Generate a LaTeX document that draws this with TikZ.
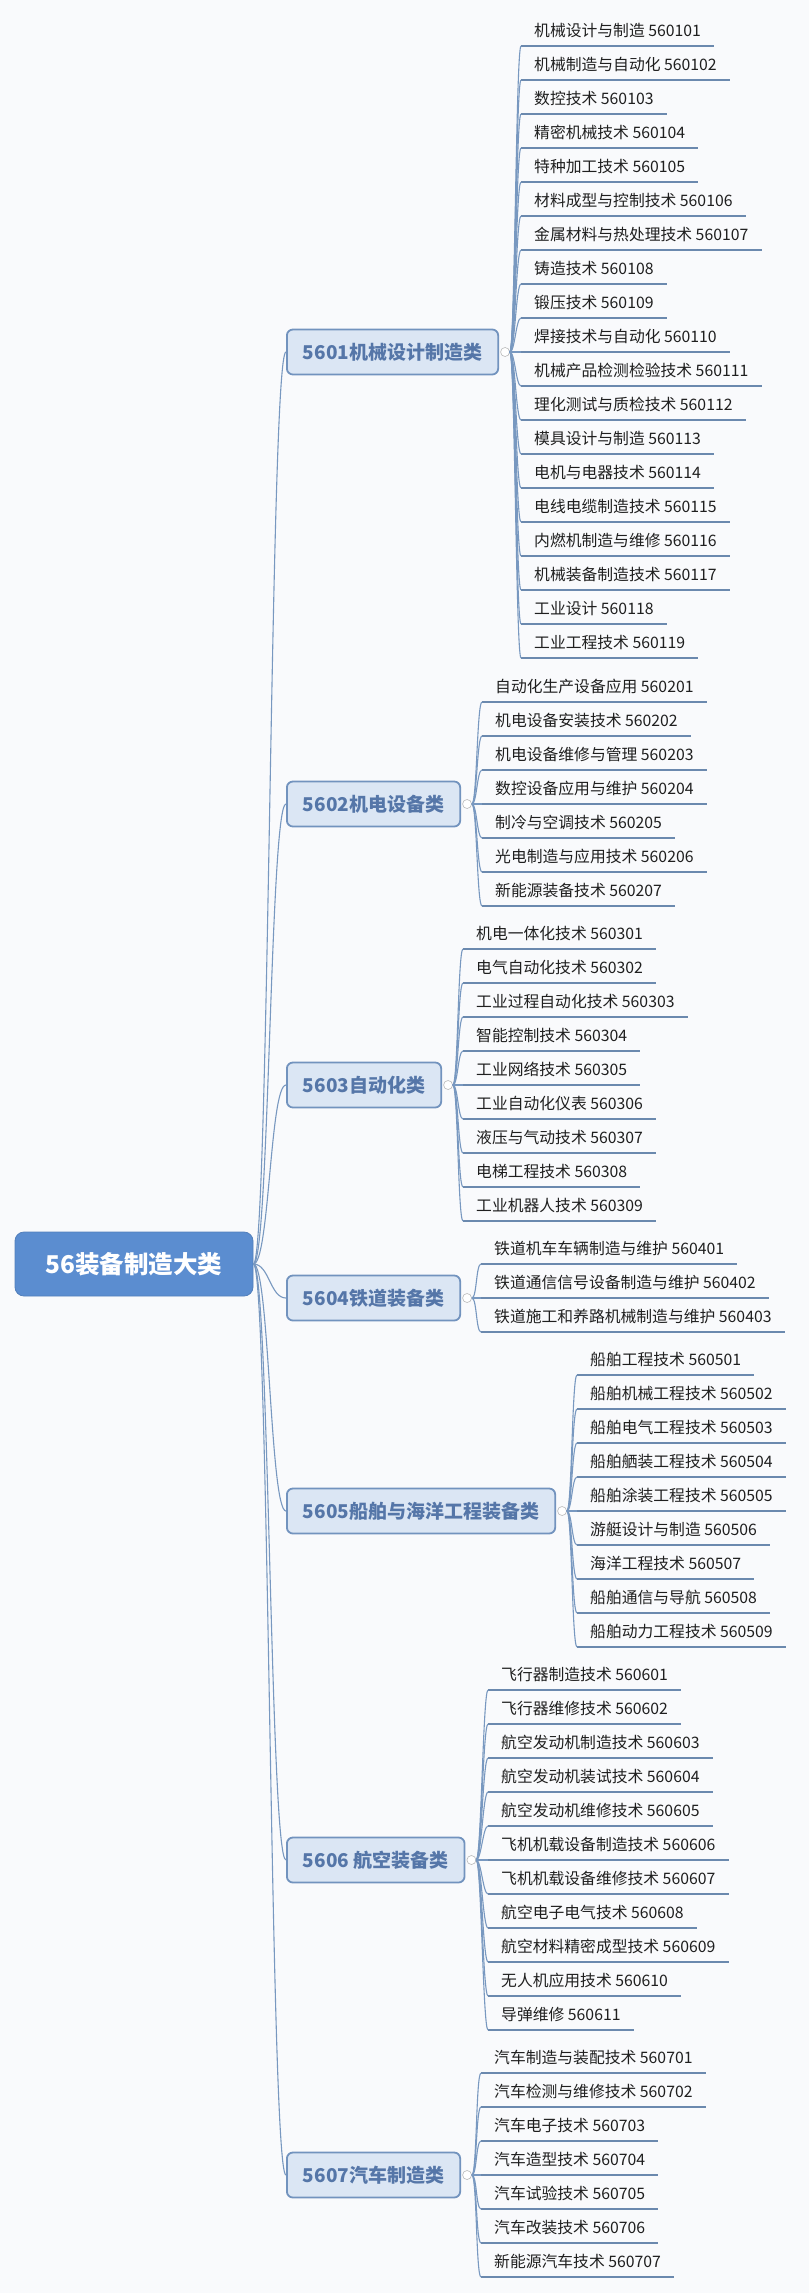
\documentclass[tikz,border=0pt]{standalone}
\usepackage{fontspec}
\setmainfont{Noto Sans CJK SC}
\definecolor{bgc}{HTML}{F9FAFC}
\definecolor{rootfill}{HTML}{5B8DD0}
\definecolor{catfill}{HTML}{DBE6F4}
\definecolor{catdraw}{HTML}{7293BE}
\definecolor{cattext}{HTML}{5576A8}
\definecolor{connc}{HTML}{7898C0}
\definecolor{ulinec}{HTML}{6B89AE}
\tikzset{
  rootbox/.style={fill=rootfill, draw=rootfill!90!black, line width=0.8pt, rounded corners=9pt,
    text=white, font=\fontsize{24.5}{28}\selectfont\bfseries, minimum width=238pt, minimum height=64pt},
  catbox/.style={fill=catfill, draw=catdraw, line width=1.8pt, rounded corners=6pt,
    text=cattext, font=\fontsize{19}{22}\selectfont\bfseries, minimum height=45pt, inner xsep=16pt, anchor=west},
  foldmark/.style={circle, draw=gray!55, fill=white, line width=0.6pt, minimum size=9pt, inner sep=0pt},
  leaf/.style={font=\fontsize{15.8}{18}\selectfont, text=black!88, inner xsep=13pt, inner ysep=5pt,
    text depth=4pt, anchor=south west},
  uline/.style={draw=ulinec, line width=2pt},
  conn/.style={draw=connc, line width=1.1pt}
}
\newcommand\mmgroup[5]{%
  \foreach \i/\t in {#5} {
    \node[leaf] (#1-\i) at (#3, {#2+34*(\i-#4)}) {\t};
    \draw[uline] (#1-\i.south west) -- (#1-\i.south east);
    \draw[conn] (#1-o.east) .. controls +(5,0) and +(-5,0) .. (#1-\i.south west);
  }}
\begin{document}
\begin{tikzpicture}[x=1pt, y=-1pt]
\fill[bgc] (0,0) rectangle (809,2293);
\useasboundingbox (0,0) rectangle (809,2293);

\node[rootbox] (root) at (134,1264) {56装备制造大类};

\node[catbox] (c1) at (286,352) {5601机械设计制造类};
\node[catbox] (c2) at (286,804) {5602机电设备类};
\node[catbox] (c3) at (286,1085) {5603自动化类};
\node[catbox] (c4) at (286,1298) {5604铁道装备类};
\node[catbox] (c5) at (286,1511) {5605船舶与海洋工程装备类};
\node[catbox] (c6) at (286,1860) {5606 航空装备类};
\node[catbox] (c7) at (286,2175) {5607汽车制造类};

\foreach \c in {c1,c2,c3,c4,c5,c6,c7} {
  \draw[conn] (root.east) .. controls +(16,0) and +(-16,0) .. (\c.west);
  \node[foldmark] (\c-o) at ([xshift=6pt]\c.east) {};
}

\mmgroup{c1}{352}{521}{10}{1/机械设计与制造 560101, 2/机械制造与自动化 560102, 3/数控技术 560103,
  4/精密机械技术 560104, 5/特种加工技术 560105, 6/材料成型与控制技术 560106,
  7/金属材料与热处理技术 560107, 8/铸造技术 560108, 9/锻压技术 560109,
  10/焊接技术与自动化 560110, 11/机械产品检测检验技术 560111, 12/理化测试与质检技术 560112,
  13/模具设计与制造 560113, 14/电机与电器技术 560114, 15/电线电缆制造技术 560115,
  16/内燃机制造与维修 560116, 17/机械装备制造技术 560117, 18/工业设计 560118,
  19/工业工程技术 560119}

\mmgroup{c2}{804}{482}{4}{1/自动化生产设备应用 560201, 2/机电设备安装技术 560202,
  3/机电设备维修与管理 560203, 4/数控设备应用与维护 560204, 5/制冷与空调技术 560205,
  6/光电制造与应用技术 560206, 7/新能源装备技术 560207}

\mmgroup{c3}{1085}{463}{5}{1/机电一体化技术 560301, 2/电气自动化技术 560302,
  3/工业过程自动化技术 560303, 4/智能控制技术 560304, 5/工业网络技术 560305,
  6/工业自动化仪表 560306, 7/液压与气动技术 560307, 8/电梯工程技术 560308,
  9/工业机器人技术 560309}

\mmgroup{c4}{1298}{481}{2}{1/铁道机车车辆制造与维护 560401, 2/铁道通信信号设备制造与维护 560402,
  3/铁道施工和养路机械制造与维护 560403}

\mmgroup{c5}{1511}{577}{5}{1/船舶工程技术 560501, 2/船舶机械工程技术 560502,
  3/船舶电气工程技术 560503, 4/船舶舾装工程技术 560504, 5/船舶涂装工程技术 560505,
  6/游艇设计与制造 560506, 7/海洋工程技术 560507, 8/船舶通信与导航 560508,
  9/船舶动力工程技术 560509}

\mmgroup{c6}{1860}{488}{6}{1/飞行器制造技术 560601, 2/飞行器维修技术 560602,
  3/航空发动机制造技术 560603, 4/航空发动机装试技术 560604, 5/航空发动机维修技术 560605,
  6/飞机机载设备制造技术 560606, 7/飞机机载设备维修技术 560607, 8/航空电子电气技术 560608,
  9/航空材料精密成型技术 560609, 10/无人机应用技术 560610, 11/导弹维修 560611}

\mmgroup{c7}{2175}{481}{4}{1/汽车制造与装配技术 560701, 2/汽车检测与维修技术 560702,
  3/汽车电子技术 560703, 4/汽车造型技术 560704, 5/汽车试验技术 560705,
  6/汽车改装技术 560706, 7/新能源汽车技术 560707}
\end{tikzpicture}
\end{document}
